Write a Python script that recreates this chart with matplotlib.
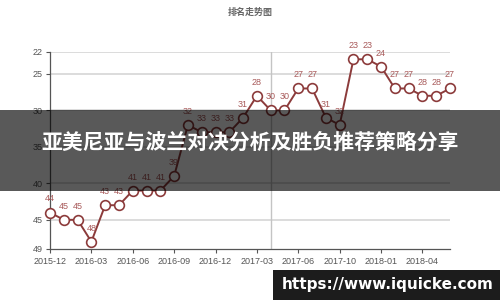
import matplotlib
matplotlib.use("Agg")
import matplotlib.pyplot as plt
from matplotlib.patches import Rectangle

plt.rcParams['font.family'] = ['Liberation Sans', 'Noto Sans CJK SC', 'DejaVu Sans']

title = "排名走势图"
banner = "亚美尼亚与波兰对决分析及胜负推荐策略分享"
watermark = "https://www.iquicke.com"

ranks = [44, 45, 45, 48, 43, 43, 41, 41, 41, 39,
         32, 33, 33, 33, 31, 28, 30, 30, 27, 27,
         31, 32, 23, 23, 24, 27, 27, 28, 28, 27]
tick_idx = [0, 3, 6, 9, 12, 15, 18, 21, 24, 27]
tick_labels = ["2015-12", "2016-03", "2016-06", "2016-09", "2016-12",
               "2017-03", "2017-06", "2017-10", "2018-01", "2018-04"]
y_ticks = [22, 25, 30, 35, 40, 45, 49]
highlight_idx = 16

fig = plt.figure(figsize=(5, 3), dpi=100)
ax = fig.add_axes([0.1, 0.17, 0.8, 0.6567])

x = list(range(len(ranks)))
ax.set_xlim(0, len(ranks) - 1)
ax.set_ylim(49, 22)

for yt in y_ticks[:-1]:
    ax.axhline(yt, color='#dcdcdc', lw=1.4, zorder=1)
ax.axvline(highlight_idx, color='#c4c4c4', lw=1.0, zorder=1)

ax.plot(x, ranks, color='#8c3b3b', lw=1.4, marker='o', ms=7,
        mfc='white', mec='#8c3b3b', mew=1.2, zorder=3, clip_on=False)
for xi, r in zip(x, ranks):
    ax.annotate(str(r), (xi, r), xytext=(0, 6.5), textcoords='offset points',
                ha='center', va='bottom', fontsize=6.5, color='#a85a5a',
                zorder=4, annotation_clip=False)

ax.set_yticks(y_ticks)
ax.set_yticklabels([str(v) for v in y_ticks])
ax.set_xticks(tick_idx)
ax.set_xticklabels(tick_labels)
ax.tick_params(axis='both', labelsize=6.5, colors='#555555', length=3, width=0.8, pad=2)
ax.tick_params(axis='x', pad=3)
for s in ['top', 'right']:
    ax.spines[s].set_visible(False)
for s in ['left', 'bottom']:
    ax.spines[s].set_color('#555555')
    ax.spines[s].set_linewidth(0.9)

fig.text(0.5, 0.96, title, ha='center', va='center', fontsize=6.5,
         color='#666666', fontweight='bold', family=['Noto Sans CJK SC', 'DejaVu Sans'])

fig.add_artist(Rectangle((0, 1 - 191 / 300), 1, 81 / 300, transform=fig.transFigure,
                         facecolor='black', alpha=0.65, edgecolor='none', zorder=10))
fig.text(0.5, 1 - 142 / 300, banner, ha='center', va='center', fontsize=15,
         color='white', fontweight='bold', family=['Noto Sans CJK SC', 'DejaVu Sans'],
         zorder=11)

fig.add_artist(Rectangle((273 / 500, 0), 1 - 273 / 500, 30 / 300, transform=fig.transFigure,
                         facecolor='#1c1c1c', edgecolor='none', zorder=10))
fig.text(387.5 / 500, 1 - 285 / 300, watermark, ha='center', va='center', fontsize=11,
         color='white', fontweight='bold', family=['DejaVu Sans'], zorder=11)

fig.savefig('out.png', dpi=100)
